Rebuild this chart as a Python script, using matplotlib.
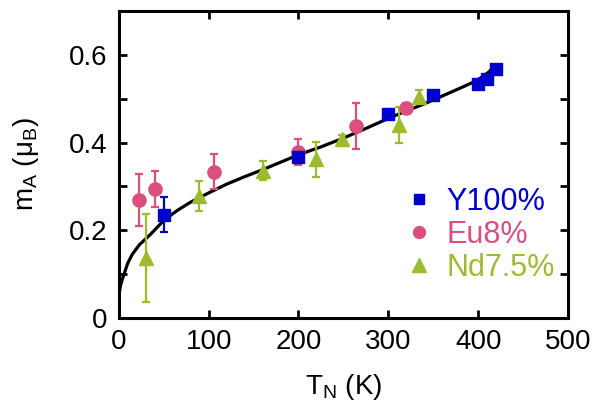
import numpy as np
import matplotlib
matplotlib.use('Agg')
import matplotlib.pyplot as plt

plt.rcParams['font.family'] = ['Liberation Sans', 'DejaVu Sans']
plt.rcParams['mathtext.fontset'] = 'custom'
plt.rcParams['mathtext.rm'] = 'Liberation Sans'

# Y100% (blue squares)
y_T = [50, 200, 300, 350, 400, 410, 420]
y_m = [0.235, 0.368, 0.465, 0.508, 0.534, 0.545, 0.568]
y_err = [0.04, 0.012, 0, 0, 0, 0, 0.008]

# Eu8% (pink circles)
eu_T = [22, 40, 106, 200, 264, 320]
eu_m = [0.269, 0.294, 0.333, 0.378, 0.438, 0.479]
eu_err = [0.06, 0.04, 0.04, 0.03, 0.053, 0.012]

# Nd7.5% (green triangles)
nd_T = [30, 89, 160, 220, 248, 312, 334]
nd_m = [0.137, 0.278, 0.336, 0.362, 0.408, 0.44, 0.504]
nd_err = [0.1, 0.035, 0.022, 0.04, 0.01, 0.04, 0.015]

# fit curve
fit_T = [0, 2, 5, 10, 15, 23, 35, 50, 65, 80, 100, 120, 140, 160, 180, 200,
         225, 250, 275, 300, 320, 340, 360, 380, 395, 405, 412, 416]
fit_m = [0.05, 0.075, 0.095, 0.125, 0.145, 0.167, 0.19, 0.222, 0.245, 0.264,
         0.285, 0.305, 0.322, 0.338, 0.355, 0.372, 0.39, 0.41, 0.432, 0.455,
         0.472, 0.488, 0.506, 0.524, 0.538, 0.55, 0.561, 0.57]

blue = '#0000cc'
pink = '#d94f7d'
green = '#9cbb2f'

fig = plt.figure(figsize=(6.03, 4.05), dpi=100)
ax = fig.add_axes([0.197, 0.215, 0.745, 0.758])

ax.plot(fit_T, fit_m, color='black', lw=2.3, zorder=1)

kw = dict(linestyle='none', capsize=3, elinewidth=1.6, capthick=1.6, zorder=2)
ax.errorbar(eu_T, eu_m, yerr=eu_err, marker='o', ms=9.5, color=pink, label='Eu8%', **kw)
ax.errorbar(nd_T, nd_m, yerr=nd_err, marker='^', ms=10.5, color=green, label='Nd7.5%', **kw)
ax.errorbar(y_T, y_m, yerr=y_err, marker='s', ms=8.5, color=blue, label='Y100%', **kw)

ax.set_xlim(0, 500)
ax.set_ylim(0, 0.7)
ax.set_xticks([0, 100, 200, 300, 400, 500])
ax.set_yticks([0, 0.2, 0.4, 0.6])
ax.set_yticklabels(['0', '0.2', '0.4', '0.6'])
ax.set_yticks([0.1, 0.3, 0.5], minor=True)
ax.tick_params(which='both', direction='in', top=True, right=True,
               length=6, width=2, labelsize=20, pad=8)
for s in ax.spines.values():
    s.set_linewidth(2.2)

ax.set_xlabel(r'T$_\mathregular{N}$ (K)', fontsize=20, labelpad=12)
ax.set_ylabel(r'm$_\mathregular{A}$ (μ$_\mathregular{B}$)', fontsize=20, labelpad=20)

h, l = ax.get_legend_handles_labels()
order = [2, 0, 1]
leg = ax.legend([h[i][0] for i in order], [l[i] for i in order],
                loc='center left', bbox_to_anchor=(0.58, 0.27), frameon=False,
                fontsize=22, handlelength=0.8, handletextpad=0.5,
                labelspacing=0.1, markerscale=0.9)
for txt, c in zip(leg.get_texts(), [blue, pink, green]):
    txt.set_color(c)

fig.savefig('out.png', dpi=100)
